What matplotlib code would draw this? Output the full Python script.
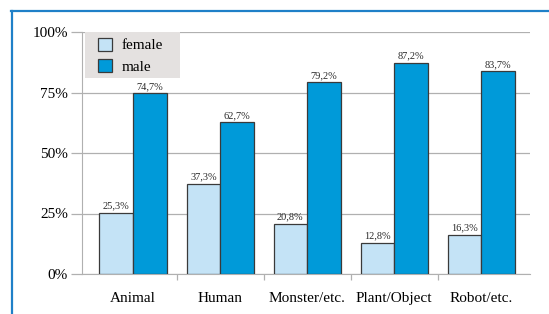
import numpy as np
import matplotlib
matplotlib.use("Agg")
import matplotlib.pyplot as plt
from matplotlib.lines import Line2D
from matplotlib.patches import Rectangle

# data
categories = ["Animal", "Human", "Monster/etc.", "Plant/Object", "Robot/etc."]
female = [25.3, 37.3, 20.8, 12.8, 16.3]
male = [74.7, 62.7, 79.2, 87.2, 83.7]
yticks = [0, 25, 50, 75, 100]

plt.rcParams["font.family"] = ["Liberation Serif", "DejaVu Serif"]

W, H = 549, 314
fig = plt.figure(figsize=(W / 100, H / 100), dpi=100)
ax = fig.add_axes([82 / W, 1 - 274 / H, (530 - 82) / W, (274 - 32) / H])

ind = np.arange(len(categories))
width = 0.385
c_f = "#c4e3f6"
c_m = "#009ad9"
edge = "#3a3a3a"

ax.bar(ind - width / 2, female, width, color=c_f, edgecolor=edge, linewidth=0.9, zorder=3, label="female")
ax.bar(ind + width / 2, male, width, color=c_m, edgecolor=edge, linewidth=0.9, zorder=3, label="male")

for i in ind:
    ax.text(i - width / 2, female[i] + 1.0, "{:.1f}%".format(female[i]).replace(".", ","),
            ha="center", va="bottom", fontsize=7.5, color="#2a2a2a")
    ax.text(i + width / 2, male[i] + 1.0, "{:.1f}%".format(male[i]).replace(".", ","),
            ha="center", va="bottom", fontsize=7.5, color="#2a2a2a")

ax.set_xlim(-0.586, 4.56)
ax.set_ylim(0, 100)
ax.set_yticks(yticks)
ax.set_yticklabels(["{}%".format(v) for v in yticks], fontsize=11)
ax.yaxis.grid(True, color="#b0b0b0", linewidth=0.9, zorder=0)
ax.tick_params(axis="y", length=8, color="#b0b0b0", width=0.9, pad=2)

ax.set_xticks(ind[:-1] + 0.5)
ax.set_xticklabels([])
ax.set_xticks(ind, minor=True)
ax.set_xticklabels(categories, minor=True, fontsize=11)
ax.tick_params(axis="x", which="major", length=4, color="#b0b0b0", width=0.9)
ax.tick_params(axis="x", which="minor", length=0, pad=13)

for s in ["top", "right"]:
    ax.spines[s].set_visible(False)
ax.spines["left"].set_color("#b0b0b0")
ax.spines["bottom"].set_color("#b0b0b0")

# legend background box
ax.add_patch(Rectangle((85 / W, 1 - 78 / H), 95 / W, 46 / H, transform=fig.transFigure,
                       facecolor="#e4e1e0", edgecolor="none", zorder=4, clip_on=False))
leg = ax.legend(loc="upper left", bbox_to_anchor=(93 / W, 1 - 33 / H), bbox_transform=fig.transFigure,
                fontsize=11, frameon=False, handlelength=0.95, handleheight=0.95,
                borderpad=0.3, labelspacing=0.45, handletextpad=0.6, borderaxespad=0)
leg.set_zorder(6)

# blue frame (top and left edges)
fig.add_artist(Line2D([11 / W, 1], [1 - 11 / H, 1 - 11 / H], color="#1f80c8", linewidth=1.6,
                      transform=fig.transFigure))
fig.add_artist(Line2D([12 / W, 12 / W], [1 - 11 / H, 0], color="#1f80c8", linewidth=1.6,
                      transform=fig.transFigure))

fig.savefig("out.png", dpi=100)
